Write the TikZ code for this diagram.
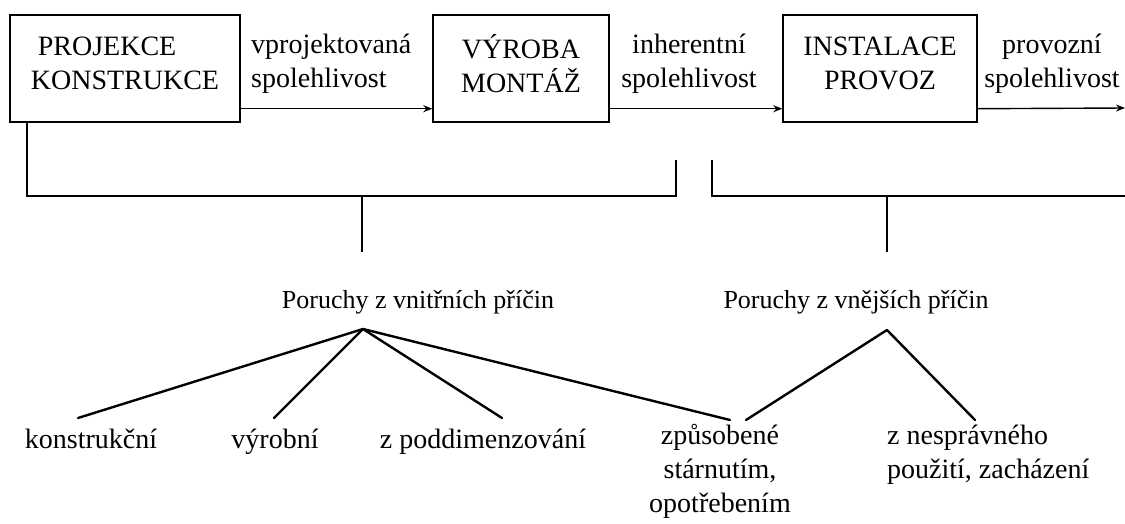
\documentclass[tikz,border=0pt]{standalone}
\usepackage{fontspec}
\setmainfont{Liberation Serif}
\usetikzlibrary{arrows.meta}
\newcommand\myfs{\fontsize{28}{34}\selectfont}
\newcommand\mysm{\fontsize{26}{32}\selectfont}
\newcommand\updep{\rule[-10pt]{0pt}{10pt}}
\begin{document}
\begin{tikzpicture}[x=1pt,y=-1pt,
  every node/.style={font=\myfs, inner sep=0pt},
  box/.style={draw, line width=1.4pt, minimum height=107pt, align=center},
  lbl/.style={align=center},
  ln/.style={line width=1.4pt},
  arr/.style={line width=1.4pt, -{Stealth[length=9pt,width=7pt]}},
  br/.style={line width=2.4pt, line cap=round}
]
\useasboundingbox (0,0) rectangle (1125,523);
% boxes
\node[box, minimum width=230pt, align=left] (p) at (125,68.5) {\hspace*{7pt}PROJEKCE\\KONSTRUKCE\updep};
\node[box, minimum width=176pt] (v) at (521,68.5) {VÝROBA\\MONTÁŽ\updep};
\node[box, minimum width=194pt] (i) at (880,68.5) {INSTALACE\\PROVOZ\updep};
\coordinate (end) at (1125,108);
% arrows
\draw[arr] ([yshift=14pt]p.south east) -- ([yshift=14pt]v.south west);
\draw[arr] ([yshift=14pt]v.south east) -- ([yshift=14pt]i.south west);
\draw[arr] ([yshift=14pt]i.south east) -- (end);
% arrow labels
\node[align=left, anchor=west] (l1) at (251,64) {vprojektovaná\\spolehlivost};
\node[lbl] (l2) at (689,64) {inherentní\\spolehlivost};
\node[lbl] (l3) at (1052,64) {provozní\\spolehlivost};
% brackets
\coordinate (b1) at (27,196);
\coordinate (b2) at (676,196);
\coordinate (b3) at (676,160);
\coordinate (c1) at (712,160);
\coordinate (c2) at (712,196);
\coordinate (c3) at (1125,196);
\coordinate (s1) at (362,196);
\coordinate (t1) at (362,252);
\coordinate (s2) at (887,196);
\coordinate (t2) at (887,252);
\draw[ln] (p.south -| b1) -- (b1) -- (b2) -- (b3);
\draw[ln] (c1) -- (c2) -- (c3);
\draw[ln] (s1) -- (t1);
\draw[ln] (s2) -- (t2);
% failure groups
\node[font=\mysm, anchor=base] (pv) at (418,308) {Poruchy z vnitřních příčin};
\node[font=\mysm, anchor=base] (pe) at (856,308) {Poruchy z vnějších příčin};
\coordinate (a1) at (363,329);
\coordinate (a2) at (887,330);
% leaves
\node[anchor=base] (k) at (91,448) {konstrukční};
\node[anchor=base] (vy) at (275,448) {výrobní};
\node[anchor=base] (zp) at (483,448) {z poddimenzování};
\node[lbl] (st) at (720,471) {způsobené\\stárnutím,\\opotřebením};
\node[align=left, anchor=west] (ns) at (887,455) {z nesprávného\\použití, zacházení};
\coordinate (e1) at (78,418);
\coordinate (e2) at (274,418);
\coordinate (e3) at (502,418);
\coordinate (e4) at (730,420);
\coordinate (e5) at (746,420);
\coordinate (e6) at (975,420);
\draw[br] (a1) -- (e1);
\draw[br] (a1) -- (e2);
\draw[br] (a1) -- (e3);
\draw[br] (a1) -- (e4);
\draw[br] (a2) -- (e5);
\draw[br] (a2) -- (e6);
\end{tikzpicture}
\end{document}
